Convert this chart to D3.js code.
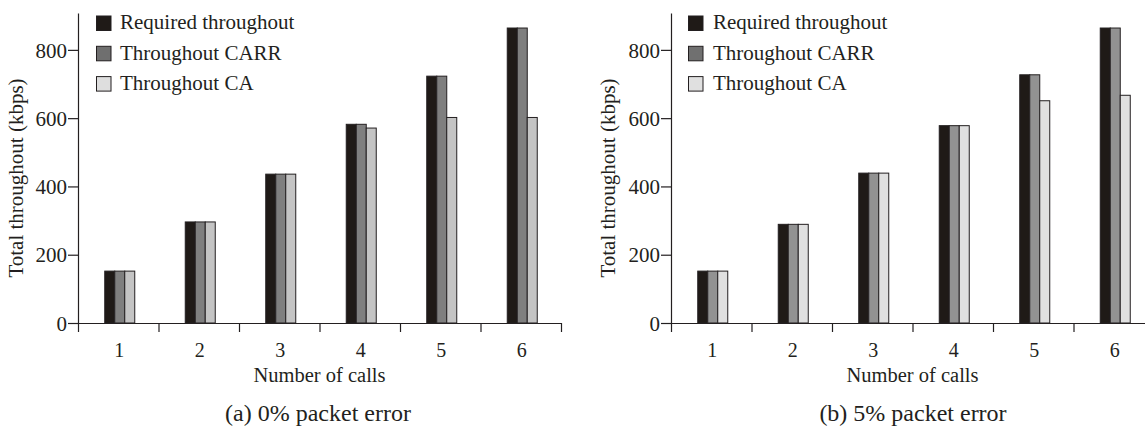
<!DOCTYPE html>
<html>
<head>
<meta charset="utf-8">
<script src="https://cdn.jsdelivr.net/npm/d3@7"></script>
<style>
  html, body { margin: 0; padding: 0; background: #fff; }
  svg { display: block; font-family: "Liberation Serif", "Times New Roman", serif; }
</style>
</head>
<body>
<svg id="chart" width="1145" height="427"></svg>
<script>
// ---- data ----
const categories = ["1", "2", "3", "4", "5", "6"];
const seriesNames = ["Required throughout", "Throughout CARR", "Throughout CA"];
const yTicks = [0, 200, 400, 600, 800];

const requiredA = [152, 296, 436, 582, 723, 864];
const carrA     = [152, 296, 436, 582, 723, 864];
const caA       = [152, 296, 436, 571, 602, 602];

const requiredB = [152, 289, 439, 578, 727, 864];
const carrB     = [152, 289, 439, 578, 727, 864];
const caB       = [152, 289, 439, 578, 651, 667];

const captions = ["(a) 0% packet error", "(b) 5% packet error"];
const xTitle = "Number of calls";
const yTitle = "Total throughout (kbps)";

// ---- drawing ----
const svg = d3.select("#chart");
const ink = "#231f20";

function drawPanel(cfg) {
  const g = svg.append("g");
  const y = d3.scaleLinear().domain([0, 908]).range([323, 13]);
  const x = d3.scaleBand().domain(categories).range([cfg.x0, cfg.x0 + 483]).padding(0);
  const xEdge = d3.scaleLinear().domain([0, 6]).range([cfg.x0, cfg.x0 + 483]);
  const sub = d3.scaleBand().domain(seriesNames).range([-14.5, 15.5]).padding(0);

  const rows = categories.map((c, i) => ({
    cat: c,
    vals: [cfg.series[0][i], cfg.series[1][i], cfg.series[2][i]]
  }));

  // bars
  const grp = g.selectAll("g.grp").data(rows).join("g")
    .attr("transform", d => `translate(${x(d.cat) + x.bandwidth() / 2 + 1},0)`);
  grp.selectAll("rect").data(d => d.vals.map((v, k) => ({ v, k }))).join("rect")
    .attr("x", d => sub(seriesNames[d.k]))
    .attr("width", sub.bandwidth())
    .attr("y", d => y(d.v))
    .attr("height", d => y(0) - y(d.v))
    .attr("fill", d => cfg.colors[d.k])
    .attr("stroke", ink)
    .attr("stroke-width", 1);

  // y axis
  const ya = g.append("g").attr("transform", `translate(${cfg.x0},0)`)
    .call(d3.axisLeft(y).tickValues(yTicks).tickSize(10).tickPadding(1).tickSizeOuter(0));
  ya.select(".domain").attr("stroke", ink).attr("stroke-width", 1.2);
  ya.selectAll(".tick line").attr("stroke", ink).attr("stroke-width", 1.2);
  ya.selectAll("text").attr("fill", ink).attr("font-size", 21)
    .attr("font-family", "Liberation Serif").attr("dy", "0.34em");

  // x axis line + edge ticks
  const xe = g.append("g").attr("transform", `translate(0,${y(0)})`)
    .call(d3.axisBottom(xEdge).ticks(6).tickSize(9).tickFormat("").tickSizeOuter(0));
  xe.select(".domain").attr("stroke", ink).attr("stroke-width", 1.2);
  xe.selectAll(".tick line").attr("stroke", ink).attr("stroke-width", 1.2);

  // x category labels
  const xl = g.append("g").attr("transform", `translate(0,${y(0)})`)
    .call(d3.axisBottom(x).tickSize(0).tickPadding(20));
  xl.select(".domain").remove();
  xl.selectAll("text").attr("fill", ink).attr("font-size", 20)
    .attr("font-family", "Liberation Serif").attr("dx", 1);

  // axis titles
  g.append("text")
    .attr("x", cfg.x0 + 241.5).attr("y", 382)
    .attr("text-anchor", "middle").attr("font-size", 20.5).attr("fill", ink)
    .text(xTitle);
  g.append("text")
    .attr("transform", `translate(${cfg.yTitleX},178) rotate(-90)`)
    .attr("text-anchor", "middle").attr("font-size", 21).attr("fill", ink)
    .text(yTitle);

  // caption
  g.append("text")
    .attr("x", cfg.capX).attr("y", 421)
    .attr("text-anchor", "middle").attr("font-size", 24).attr("fill", ink)
    .text(cfg.caption);

  // legend
  const lg = g.append("g").attr("transform", `translate(${cfg.legX},0)`);
  const li = lg.selectAll("g").data(seriesNames).join("g")
    .attr("transform", (d, i) => `translate(0,${16 + i * 30.3})`);
  li.append("rect")
    .attr("x", 0).attr("y", 0).attr("width", 14.5).attr("height", 14.5)
    .attr("fill", (d, i) => cfg.legColors[i])
    .attr("stroke", ink).attr("stroke-width", 1);
  li.append("text")
    .attr("x", cfg.legTextDx).attr("y", 13.3)
    .attr("font-size", 21).attr("fill", ink)
    .text(d => d);
}

drawPanel({
  x0: 78,
  series: [requiredA, carrA, caA],
  colors: ["#1f1a17", "#7f7f7f", "#c4c4c4"],
  legColors: ["#1f1a17", "#6f6f6f", "#dedede"],
  caption: captions[0],
  capX: 318,
  yTitleX: 23,
  legX: 96.5,
  legTextDx: 23.5
});

drawPanel({
  x0: 671,
  series: [requiredB, carrB, caB],
  colors: ["#1f1a17", "#929292", "#e0e0e0"],
  legColors: ["#1f1a17", "#707070", "#e0e0e0"],
  caption: captions[1],
  capX: 913,
  yTitleX: 615,
  legX: 688.5,
  legTextDx: 24.5
});
</script>
</body>
</html>
